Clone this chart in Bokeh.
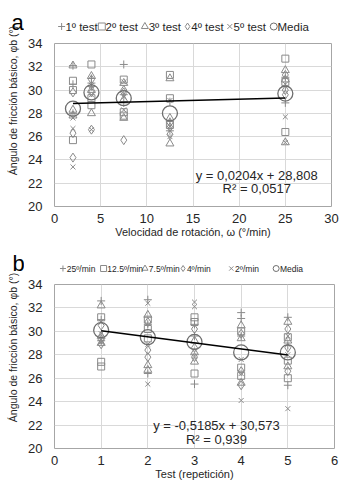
import math
from bokeh.plotting import figure
from bokeh.layouts import column, row
from bokeh.models import Range1d, FixedTicker, Label, ColumnDataSource
from bokeh.embed import file_html
from bokeh.resources import INLINE

FONT = "Liberation Sans"
TXT = "#262626"
MK = "#8a8a8a"
MEAN_C = "#6e6e6e"

# ---------------- Panel a data ----------------
velocities = [2, 4, 7.5, 12.5, 25]
labels_a = ["1º test", "2º test", "3º test", "4º test", "5º test"]
# values per velocity for each test
test1 = [[32.1, 30.5, 28.0], [31.0, 30.6, 30.3], [32.2, 29.6, 28.9], [29.0, 27.3, 26.5], [31.1, 30.3, 28.9]]
test2 = [[30.8, 30.0, 25.7], [32.2, 29.3, 28.7], [30.9, 28.1, 27.8], [31.3, 29.3, 27.0], [32.7, 30.7, 26.4]]
test3 = [[32.1, 28.3, 27.8], [31.2, 30.0, 28.0], [30.6, 29.2, 27.6], [31.0, 27.6, 25.4], [31.7, 30.9, 25.5]]
test4 = [[29.8, 26.3, 24.2], [30.9, 29.8, 26.6], [30.0, 29.8, 25.7], [27.2, 26.8, 26.2], [31.3, 29.6, 30.0]]
test5 = [[27.6, 26.7, 23.4], [30.4, 29.6, 26.6], [30.7, 29.4, 28.3], [29.1, 26.9, 26.0], [30.5, 27.7, 25.5]]
mean_a = [28.4, 29.8, 29.3, 28.0, 29.7]
slope_a, icpt_a = 0.0204, 28.808
eq_a = ["y = 0,0204x + 28,808", "R² = 0,0517"]
xticks_a = [0, 5, 10, 15, 20, 25, 30]

# ---------------- Panel b data ----------------
tests = [1, 2, 3, 4, 5]
labels_b = ["25º/min", "12.5º/min", "7.5º/min", "4º/min", "2º/min"]
v25 = [[32.6, 31.0, 29.2], [32.7, 30.6, 26.4], [30.6, 29.6, 25.5], [31.6, 31.1, 29.6], [31.2, 28.8, 25.4]]
v125 = [[31.2, 27.4, 27.0], [31.0, 30.2, 29.4], [31.2, 30.8, 26.4], [30.0, 26.9, 26.2], [29.5, 27.5, 26.0]]
v75 = [[32.2, 29.6, 29.0], [31.4, 27.1, 26.7], [29.2, 28.2, 27.4], [30.5, 29.4, 25.6], [30.8, 29.2, 27.0]]
v4 = [[30.5, 29.3, 28.9], [30.8, 28.4, 27.8], [30.2, 28.6, 27.8], [29.8, 26.6, 25.4], [30.2, 28.6, 26.6]]
v2 = [[30.8, 29.8, 29.1], [32.4, 28.9, 25.5], [32.5, 32.1, 27.9], [27.6, 26.4, 24.1], [29.6, 28.0, 23.4]]
mean_b = [30.1, 29.5, 29.1, 28.2, 28.2]
slope_b, icpt_b = -0.5185, 30.573
eq_b = ["y = -0,5185x + 30,573", "R² = 0,939"]
xticks_b = [0, 1, 2, 3, 4, 5, 6]

yticks = [20, 22, 24, 26, 28, 30, 32, 34]
ylabel = "Ángulo de fricción básico, φb (°)"
markers = ["cross", "square", "triangle", "diamond", "x"]
sizes = [8, 7, 8, 9, 7]

# layout constants: page x of each legend key centre
LEG_POS_A = [32.5, 80.5, 132, 183, 233.5, 286]
LEG_POS_B = [34, 82, 131, 176, 233, 286]

W = 355
LW = 24
MW = W - LW


def flatten(xs, groups):
    ox, oy = [], []
    for x, vals in zip(xs, groups):
        for v in vals:
            ox.append(x)
            oy.append(v)
    return ox, oy


def blank(width, height):
    f = figure(width=width, height=height, output_backend="svg", toolbar_location=None,
               x_range=Range1d(0, width), y_range=Range1d(0, height),
               x_axis_location=None, y_axis_location=None,
               min_border=0, min_border_left=0, min_border_right=0,
               min_border_top=0, min_border_bottom=0)
    f.grid.visible = False
    f.outline_line_color = None
    f.background_fill_color = "white"
    f.border_fill_color = "white"
    return f


def header(labels, height, leg_font, key_size, leg_pos, leg_y):
    h = blank(MW, height)
    names = labels + ["Media"]
    keys = markers + ["circle"]
    colors = [MK] * len(markers) + [MEAN_C]
    kx = [c - LW for c in leg_pos]
    src = ColumnDataSource(dict(x=kx, y=[leg_y] * len(kx), m=keys, c=colors))
    h.scatter("x", "y", source=src, marker="m", size=key_size, line_color="c",
              fill_color=None, line_width=1)
    for name, x in zip(names, kx):
        h.add_layout(Label(x=x + 4.5, y=leg_y, text=name, text_font=FONT,
                           text_font_size=leg_font, text_color=TXT,
                           text_align="left", text_baseline="middle"))
    return h


def side(letter, height, let_x, let_y, cy):
    f = blank(LW, height)
    f.add_layout(Label(x=let_x, y=let_y, text=letter, text_font=FONT, text_font_size="22px",
                       text_color="black", text_align="center", text_baseline="alphabetic"))
    f.add_layout(Label(x=12, y=cy, text=ylabel, angle=math.pi / 2, text_font=FONT,
                       text_font_size="10.5px", text_color=TXT,
                       text_align="center", text_baseline="middle"))
    return f


def main(xs, series, means, slope, icpt, eq, xticks, xmax, xlabel, height, bottom,
         right, eq_x, eq_y):
    p = figure(width=MW, height=height, output_backend="svg", toolbar_location=None,
               x_range=Range1d(0, xmax), y_range=Range1d(20, 34),
               min_border_left=30, min_border_right=right, min_border_top=8,
               min_border_bottom=bottom)
    p.outline_line_color = "#a6a6a6"
    p.outline_line_width = 1
    p.background_fill_color = "white"
    p.border_fill_color = "white"
    p.xaxis.ticker = FixedTicker(ticks=xticks)
    p.yaxis.ticker = FixedTicker(ticks=yticks)
    for ax in (p.xaxis, p.yaxis):
        ax.axis_line_color = None
        ax.major_tick_line_color = None
        ax.minor_tick_line_color = None
        ax.major_tick_out = 0
        ax.major_tick_in = 0
        ax.minor_tick_out = 0
        ax.major_label_text_font = FONT
        ax.major_label_text_font_size = "13px"
        ax.major_label_text_color = TXT
    p.yaxis.major_label_standoff = 12
    p.xaxis.major_label_standoff = 7
    p.xaxis.axis_label = xlabel
    p.xaxis.axis_label_text_font = FONT
    p.xaxis.axis_label_text_font_style = "normal"
    p.xaxis.axis_label_text_font_size = "11px"
    p.xaxis.axis_label_text_color = TXT
    p.xaxis.axis_label_standoff = 0
    p.grid.grid_line_color = "#d9d9d9"
    p.grid.grid_line_width = 1

    for vals, mk, sz in zip(series, markers, sizes):
        x, y = flatten(xs, vals)
        p.scatter(x, y, marker=mk, size=sz, line_color=MK, fill_color=None, line_width=1)
    p.scatter(xs, means, marker="circle", size=15, line_color=MEAN_C, fill_color=None,
              line_width=1.3)

    x0, x1 = min(xs), max(xs)
    p.line([x0, x1], [slope * x0 + icpt, slope * x1 + icpt], line_color="black", line_width=1.6)

    p.add_layout(Label(x=eq_x, y=eq_y, text=eq[0], text_font=FONT, text_font_size="13px",
                       text_color=TXT, text_align="center", text_baseline="middle"))
    p.add_layout(Label(x=eq_x, y=eq_y - 1.15, text=eq[1], text_font=FONT, text_font_size="13px",
                       text_color=TXT, text_align="center", text_baseline="middle"))
    return p


series_a = [test1, test2, test3, test4, test5]
ha = header(labels_a, 35, "11.5px", 7, LEG_POS_A, 9)
ma = main(velocities, series_a, mean_a, slope_a, icpt_a, eq_a,
          xticks_a, 30, "Velocidad de rotación, ω (°/min)", 206, 35, 24, 21.9, 22.66)
sa = side("a", 241, 17, 219, 141)

series_b = [v25, v125, v75, v4, v2]
hb = header(labels_b, 35, "8.5px", 6, LEG_POS_B, 8)
mb = main(tests, series_b, mean_b, slope_b, icpt_b, eq_b,
          xticks_b, 6, "Test (repetición)", 209, 37, 21, 3.47, 21.95)
sb = side("b", 244, 18, 222, 138)

layout = column(row(sa, column(ha, ma)), row(sb, column(hb, mb)))
open("out.html", "w").write(file_html(layout, INLINE))
